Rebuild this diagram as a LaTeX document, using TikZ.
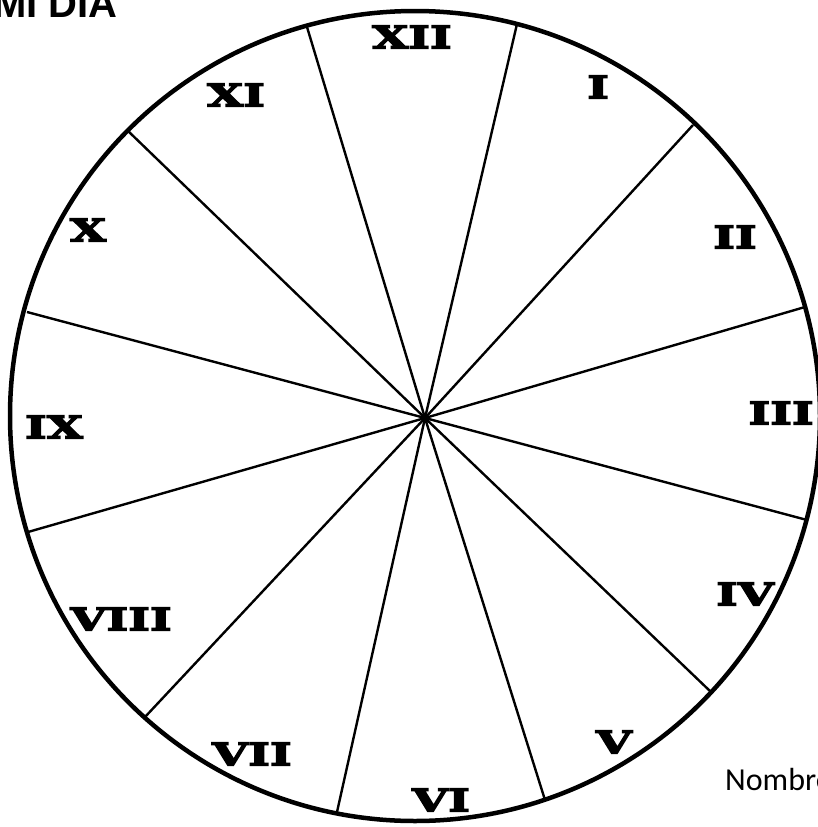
\documentclass[tikz,border=0pt]{standalone}
\usepackage{fontspec}
\setmainfont{Liberation Sans}
\newfontfamily\numfont{DejaVu Serif Bold}[FakeStretch=1.5,FakeBold=5]
\newfontfamily\notefont{Carlito}
\usetikzlibrary{positioning}

\begin{document}
\begin{tikzpicture}[
      x=1pt, y=-1pt,
      rim/.style={line width=4.5pt},
      spoke/.style={line width=2.4pt},
      hour/.style={font=\numfont\fontsize{31}{31}\selectfont, inner sep=0pt},
      heading/.style={font=\bfseries\fontsize{40}{40}\selectfont, inner sep=0pt, anchor=base east},
      note/.style={font=\notefont\fontsize{32}{32}\selectfont, inner sep=0pt, anchor=base west}
    ]
    \useasboundingbox (0,0) rectangle (817,827);
    \coordinate (mid) at (415,416);
    \coordinate (hub) at (425,418);
    \draw[rim] (mid) circle [radius=405];
    \foreach \px/\py [count=\i] in {517/24, 693/125, 805/307, 807/520, 711/692, 545/800,
                                    337/812, 145/717, 28/532, 27/312, 127/130, 307/27} {
      \coordinate (end\i) at (\px,\py);
      \draw[spoke] (hub) -- (end\i);
    }
    \node[hour] (h12) at (412,37) {XII};
    \node[hour] (h1) at (598,87) {I};
    \node[hour] (h2) at (735,237) {II};
    \node[hour] (h3) at (781,413) {III};
    \node[hour] (h4) at (745,594) {IV};
    \node[hour] (h5) at (614,742) {V};
    \node[hour] (h6) at (441,800) {VI};
    \node[hour] (h7) at (252,754) {VII};
    \node[hour] (h8) at (121,619) {VIII};
    \node[hour] (h9) at (54,427) {IX};
    \node[hour] (h10) at (88,230) {X};
    \node[hour] (h11) at (236,95) {XI};
    \node[heading] (title) at (118,17) {MI DIA};
    \node[note] (name) at (725,790) {Nombre};
  \end{tikzpicture}
\end{document}
